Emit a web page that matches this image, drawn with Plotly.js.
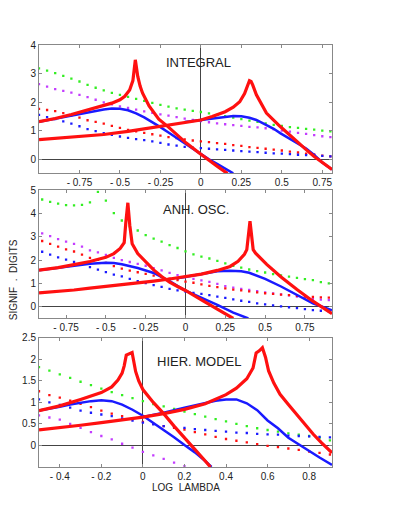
<!DOCTYPE html>
<html>
<head>
<meta charset="utf-8">
<script src="https://cdn.plot.ly/plotly-3.0.1.min.js"></script>
<style>
body{margin:0;padding:0;background:#fff;}
#myPlot{width:395px;height:511px;}
</style>
</head>
<body>
<div id="myPlot"></div>
<script>

///////////////////////////// data ///////////////////////////////

/// dotted series, one point every 0.05 in log lambda
var xDots1 = [-1,-0.95,-0.9,-0.85,-0.8,-0.75,-0.7,-0.65,-0.6,-0.55,-0.5,-0.45,-0.4,-0.35,-0.3,-0.25,-0.2,-0.15,-0.1,-0.05,0,0.05,0.1,0.15,0.2,0.25,0.3,0.35,0.4,0.45,0.5,0.55,0.6,0.65,0.7,0.75,0.8];
var green1  = [3.18,3.10,3.01,2.92,2.82,2.72,2.60,2.50,2.41,2.32,2.25,2.18,2.11,2.04,1.97,1.90,1.84,1.78,1.73,1.69,1.65,1.60,1.55,1.50,1.45,1.40,1.35,1.30,1.25,1.20,1.16,1.12,1.09,1.06,1.03,1.00,0.97];
var purple1 = [2.63,2.54,2.45,2.39,2.33,2.25,2.17,2.08,1.99,1.92,1.85,1.79,1.73,1.67,1.62,1.57,1.52,1.47,1.42,1.37,1.33,1.29,1.25,1.22,1.19,1.16,1.13,1.11,1.08,1.04,1.00,0.96,0.92,0.88,0.84,0.80,0.77];
var red1    = [1.76,1.72,1.68,1.61,1.53,1.45,1.36,1.30,1.24,1.16,1.09,1.02,0.97,0.92,0.87,0.82,0.77,0.73,0.69,0.65,0.62,0.59,0.56,0.53,0.49,0.46,0.42,0.39,0.36,0.33,0.30,0.26,0.23,0.19,0.16,0.12,0.09];
var blue1   = [1.55,1.47,1.40,1.32,1.24,1.15,1.05,0.98,0.91,0.85,0.79,0.74,0.70,0.66,0.62,0.57,0.51,0.47,0.43,0.40,0.38,0.36,0.34,0.32,0.30,0.28,0.26,0.24,0.22,0.20,0.19,0.17,0.15,0.14,0.12,0.11,0.09];

var xDots2 = [-0.9,-0.85,-0.8,-0.75,-0.7,-0.65,-0.6,-0.55,-0.5,-0.45,-0.4,-0.35,-0.3,-0.25,-0.2,-0.15,-0.1,-0.05,0,0.05,0.1,0.15,0.2,0.25,0.3,0.35,0.4,0.45,0.5,0.55,0.6,0.65,0.7,0.75,0.8,0.85,0.9];
var green2  = [4.6,4.5,4.42,4.36,4.35,4.37,4.48,4.93,4.55,4.02,3.70,3.45,3.27,3.07,2.92,2.79,2.64,2.52,2.38,2.25,2.15,2.07,1.97,1.86,1.76,1.68,1.60,1.53,1.47,1.40,1.35,1.29,1.24,1.19,1.14,1.06,1.00];
var purple2 = [3.15,3.03,2.90,2.79,2.70,2.58,2.42,2.33,2.22,2.10,2.00,1.92,1.84,1.76,1.66,1.56,1.45,1.36,1.27,1.20,1.13,1.07,0.98,0.89,0.82,0.77,0.72,0.67,0.62,0.57,0.53,0.49,0.44,0.39,0.34,0.31,0.29];
var red2    = [2.82,2.70,2.58,2.46,2.37,2.24,2.10,2.01,1.88,1.74,1.64,1.55,1.48,1.41,1.34,1.28,1.21,1.14,1.08,1.03,0.96,0.90,0.84,0.79,0.74,0.70,0.66,0.62,0.58,0.55,0.52,0.50,0.47,0.45,0.42,0.40,0.39];
var blue2   = [2.36,2.24,2.12,2.02,1.92,1.81,1.70,1.59,1.49,1.38,1.30,1.20,1.10,1.02,0.93,0.85,0.77,0.70,0.65,0.60,0.55,0.50,0.44,0.38,0.32,0.26,0.21,0.15,0.10,0.06,0.02,-0.02,-0.06,-0.10,-0.14,-0.17,-0.19];

var xDots3 = [-0.5,-0.45,-0.4,-0.35,-0.3,-0.25,-0.2,-0.15,-0.1,-0.05,0,0.05,0.1,0.15,0.2,0.25,0.3,0.35,0.4,0.45,0.5,0.55,0.6,0.65,0.7,0.75,0.8,0.85,0.9];
var green3  = [1.82,1.74,1.65,1.57,1.48,1.40,1.32,1.24,1.17,1.10,1.03,0.96,0.91,0.85,0.79,0.73,0.67,0.61,0.56,0.50,0.45,0.40,0.36,0.32,0.28,0.25,0.22,0.18,0.12];
var purple3 = [0.70,0.65,0.60,0.50,0.41,0.31,0.22,0.14,0.04,-0.05,-0.15,-0.23,-0.31,-0.40,-0.48];
var red3    = [1.26,1.17,1.11,1.04,0.97,0.89,0.81,0.74,0.68,0.61,0.55,0.50,0.45,0.41,0.37,0.31,0.26,0.20,0.15,0.11,0.07,0.03,-0.01,-0.04,-0.07,-0.10,-0.14,-0.17,-0.21];
var blue3   = [1.07,1.00,0.94,0.88,0.81,0.76,0.72,0.68,0.63,0.58,0.53,0.49,0.45,0.43,0.41,0.38,0.36,0.34,0.32,0.30,0.29,0.27,0.26,0.25,0.23,0.22,0.21,0.20,0.19];

/// solid curves (two red, two blue per panel)
var redAx1 = [-1,-0.9,-0.8,-0.7,-0.6,-0.55,-0.5,-0.47,-0.44,-0.42,-0.405,-0.39,-0.375,-0.36,-0.32,-0.26,-0.2,-0.17,-0.09,0,0.05,0.1,0.15,0.165];
var redAy1 = [1.31,1.42,1.56,1.71,1.86,1.96,2.08,2.2,2.42,2.75,3.48,2.9,2.55,2.31,1.86,1.40,1.12,0.97,0.56,0.17,-0.05,-0.25,-0.45,-0.5];
var blueAx1 = [-1,-0.9,-0.8,-0.7,-0.6,-0.55,-0.5,-0.45,-0.4,-0.35,-0.3,-0.25,-0.2,-0.15,-0.1,-0.05,0,0.05,0.1,0.15,0.2];
var blueAy1 = [1.31,1.42,1.54,1.65,1.74,1.77,1.76,1.71,1.60,1.46,1.30,1.12,0.93,0.74,0.55,0.36,0.17,-0.01,-0.17,-0.34,-0.5];
var redBx1 = [-1,-0.8,-0.6,-0.45,-0.25,-0.13,0,0.07,0.15,0.2,0.24,0.27,0.29,0.30,0.31,0.32,0.343,0.37,0.405,0.49,0.59,0.65,0.7,0.75,0.81];
var redBy1 = [0.68,0.77,0.86,0.97,1.16,1.26,1.37,1.49,1.66,1.82,2.01,2.3,2.62,2.75,2.72,2.6,2.25,1.95,1.61,1.14,0.62,0.33,0.09,-0.13,-0.37];
var blueBx1 = [-0.1,0,0.1,0.2,0.25,0.3,0.343,0.4,0.45,0.49,0.55,0.6,0.65,0.7,0.75,0.81];
var blueBy1 = [1.30,1.37,1.46,1.51,1.50,1.45,1.37,1.20,1.06,0.91,0.71,0.55,0.37,0.14,-0.12,-0.37];

var redAx2 = [-0.92,-0.8,-0.7,-0.6,-0.5,-0.45,-0.41,-0.385,-0.375,-0.362,-0.35,-0.335,-0.3,-0.25,-0.2,-0.15,-0.1,-0.05,0,0.1,0.2,0.3];
var redAy2 = [1.57,1.68,1.81,1.94,2.12,2.28,2.5,2.75,3.6,4.46,3.5,2.7,2.28,1.92,1.58,1.30,1.06,0.87,0.70,0.30,-0.1,-0.5];
var blueAx2 = [-0.92,-0.8,-0.7,-0.6,-0.5,-0.45,-0.4,-0.3,-0.2,-0.1,0,0.1,0.2,0.3,0.395];
var blueAy2 = [1.57,1.68,1.78,1.85,1.89,1.88,1.82,1.66,1.45,1.10,0.69,0.39,0.08,-0.25,-0.5];
var redBx2 = [-0.92,-0.8,-0.7,-0.6,-0.5,-0.4,-0.3,-0.2,-0.1,0,0.1,0.2,0.28,0.33,0.37,0.385,0.405,0.425,0.44,0.51,0.6,0.7,0.8,0.92];
var redBy2 = [0.60,0.66,0.72,0.80,0.87,0.94,1.02,1.10,1.19,1.28,1.40,1.56,1.73,1.95,2.25,2.45,3.67,2.45,2.3,1.82,1.28,0.74,0.24,-0.3];
var blueBx2 = [-0.05,0,0.1,0.2,0.28,0.35,0.4,0.45,0.5,0.6,0.7,0.8,0.92];
var blueBy2 = [1.22,1.28,1.40,1.52,1.55,1.52,1.46,1.34,1.20,0.87,0.50,0.15,-0.15];

var redAx3 = [-0.5,-0.4,-0.3,-0.2,-0.15,-0.12,-0.1,-0.09,-0.08,-0.065,-0.052,-0.045,-0.035,-0.02,0,0.05,0.1,0.15,0.2,0.25,0.3,0.325];
var redAy3 = [0.81,0.92,1.07,1.23,1.36,1.52,1.68,1.85,2.10,2.13,2.16,1.98,1.72,1.50,1.30,1.00,0.74,0.45,0.17,-0.09,-0.36,-0.5];
var blueAx3 = [-0.5,-0.45,-0.4,-0.35,-0.3,-0.25,-0.2,-0.15,-0.1,-0.05,0,0.05,0.1,0.15,0.2,0.25,0.3,0.33];
var blueAy3 = [0.81,0.85,0.90,0.95,0.99,1.03,1.05,1.03,0.95,0.83,0.69,0.53,0.36,0.19,0.01,-0.16,-0.36,-0.5];
var redBx3 = [-0.5,-0.4,-0.3,-0.2,-0.1,0,0.1,0.2,0.3,0.4,0.45,0.5,0.53,0.545,0.56,0.575,0.59,0.605,0.63,0.66,0.7,0.74,0.78,0.82,0.86,0.91];
var redBy3 = [0.36,0.41,0.47,0.53,0.59,0.66,0.74,0.84,0.97,1.18,1.33,1.55,1.80,2.15,2.2,2.27,2.05,1.73,1.45,1.19,0.95,0.72,0.49,0.26,0.06,-0.17];
var blueBx3 = [0,0.1,0.2,0.3,0.35,0.4,0.45,0.5,0.55,0.6,0.65,0.7,0.75,0.8,0.85,0.91];
var blueBy3 = [0.66,0.76,0.88,0.99,1.04,1.07,1.07,0.98,0.82,0.58,0.40,0.18,0.02,-0.14,-0.28,-0.45];

/// tick labels
var xTicks12 = [-0.75,-0.5,-0.25,0,0.25,0.5,0.75];
var xText12  = ["- 0.75","- 0.5","- 0.25","0","0.25","0.5","0.75"];
var xTicks3  = [-0.4,-0.2,0,0.2,0.4,0.6,0.8];
var xText3   = ["- 0.4","- 0.2","0","0.2","0.4","0.6","0.8"];
var yTicks1  = [0,1,2,3,4];
var yTicks2  = [0,1,2,3,4,5];
var yTicks3  = [0,0.5,1,1.5,2,2.5];

var panelNames = ["INTEGRAL","ANH. OSC.","HIER. MODEL"];

///////////////////////////// colours ///////////////////////////////
var cGreen = "#33ee22", cPurple = "#c33cff", cRed = "#ff1010", cBlue = "#1a1aff";

function dots(x, y, col, n){
  return {x:x.slice(0,y.length), y:y, mode:'markers', type:'scatter',
    marker:{symbol:'square', size:2.3, color:col}, xaxis:'x'+n, yaxis:'y'+n,
    hoverinfo:'skip'};
}
function curve(x, y, col, w, n){
  return {x:x, y:y, mode:'lines', type:'scatter',
    line:{color:col, width:w}, xaxis:'x'+n, yaxis:'y'+n, hoverinfo:'skip'};
}

var data = [
  dots(xDots1, green1, cGreen, ''), dots(xDots1, purple1, cPurple, ''),
  dots(xDots1, red1, cRed, ''), dots(xDots1, blue1, cBlue, ''),
  curve(blueAx1, blueAy1, cBlue, 2.5, ''), curve(blueBx1, blueBy1, cBlue, 2.5, ''),
  curve(redAx1, redAy1, cRed, 3.2, ''), curve(redBx1, redBy1, cRed, 3.2, ''),

  dots(xDots2, green2, cGreen, '2'), dots(xDots2, purple2, cPurple, '2'),
  dots(xDots2, red2, cRed, '2'), dots(xDots2, blue2, cBlue, '2'),
  curve(blueAx2, blueAy2, cBlue, 2.5, '2'), curve(blueBx2, blueBy2, cBlue, 2.5, '2'),
  curve(redAx2, redAy2, cRed, 3.2, '2'), curve(redBx2, redBy2, cRed, 3.2, '2'),

  dots(xDots3, green3, cGreen, '3'), dots(xDots3, purple3, cPurple, '3'),
  dots(xDots3, red3, cRed, '3'), dots(xDots3, blue3, cBlue, '3'),
  curve(blueAx3, blueAy3, cBlue, 2.5, '3'), curve(blueBx3, blueBy3, cBlue, 2.5, '3'),
  curve(redAx3, redAy3, cRed, 3.2, '3'), curve(redBx3, redBy3, cRed, 3.2, '3')
];

var tickFont = {family:'Liberation Sans, Arial, sans-serif', size:10, color:'#222'};

function xAx(range, vals, txt, anchor){
  return {range:range, tickvals:vals, ticktext:txt, anchor:anchor,
    showgrid:false, zeroline:true, zerolinecolor:'#444', zerolinewidth:1,
    showline:true, mirror:'ticks', linecolor:'#888', linewidth:1,
    ticks:'inside', ticklen:3, tickcolor:'#888', tickfont:tickFont};
}
function yAx(range, vals, dom, anchor){
  return {range:range, tickvals:vals, domain:dom, anchor:anchor,
    showgrid:false, zeroline:true, zerolinecolor:'#444', zerolinewidth:1,
    showline:true, mirror:'ticks', linecolor:'#888', linewidth:1,
    ticks:'inside', ticklen:3, tickcolor:'#888', tickfont:tickFont};
}

var annFont = {family:'Liberation Sans, Arial, sans-serif', size:13, color:'#222'};
var smallFont = {family:'Liberation Sans, Arial, sans-serif', size:10, color:'#222'};

var layout = {
  width:395, height:511,
  margin:{l:39, r:63, t:45, b:44},
  paper_bgcolor:'#fff', plot_bgcolor:'#fff',
  showlegend:false,
  xaxis:  xAx([-1,0.81], xTicks12, xText12, 'y'),
  yaxis:  yAx([-0.5,4], yTicks1, [0.696,1], 'x'),
  xaxis2: xAx([-0.92,0.92], xTicks12, xText12, 'y2'),
  yaxis2: yAx([-0.5,5], yTicks2, [0.352,0.656], 'x2'),
  xaxis3: xAx([-0.5,0.91], xTicks3, xText3, 'y3'),
  yaxis3: yAx([-0.5,2.5], yTicks3, [0,0.306], 'x3'),
  annotations:[
    {text:panelNames[0], xref:'paper', yref:'paper', x:0.543, y:0.958, yanchor:'middle', showarrow:false, font:annFont},
    {text:panelNames[1], xref:'paper', yref:'paper', x:0.536, y:0.61, yanchor:'middle', showarrow:false, font:annFont},
    {text:panelNames[2], xref:'paper', yref:'paper', x:0.549, y:0.251, yanchor:'middle', showarrow:false, font:annFont},
    {text:'LOG  LAMBDA', xref:'paper', yref:'paper', x:0.5, y:-0.048, yanchor:'middle', showarrow:false, font:smallFont},
    {text:'SIGNIF  .  DIGITS', xref:'paper', yref:'paper', x:-0.087, y:0.444, xanchor:'center', yanchor:'middle',
      textangle:-90, showarrow:false, font:smallFont}
  ]
};

Plotly.newPlot('myPlot', data, layout, {staticPlot:true});

</script>
</body>
</html>
